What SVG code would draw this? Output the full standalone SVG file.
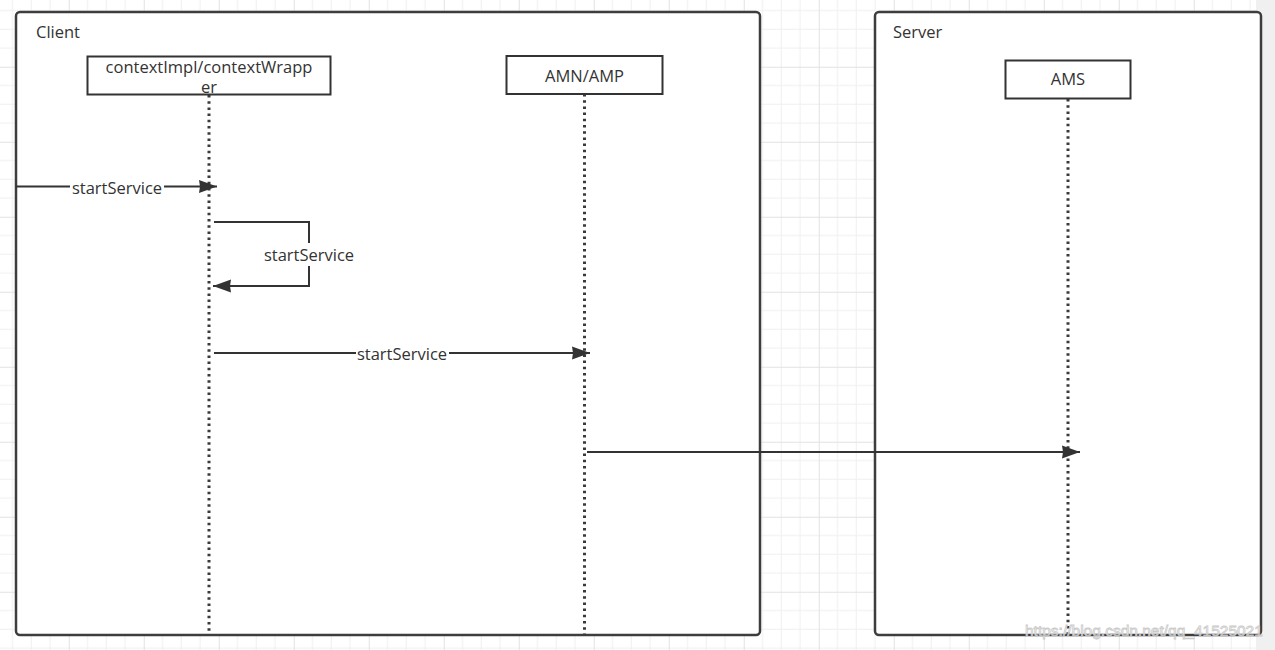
<svg xmlns="http://www.w3.org/2000/svg" width="1275" height="650" viewBox="0 0 1275 650">
  <defs>
    <pattern id="grid" patternUnits="userSpaceOnUse" x="68.75" y="66.75" width="75" height="75">
      <path d="M18.75,0V75M37.5,0V75M56.25,0V75M0,18.75H75M0,37.5H75M0,56.25H75" stroke="#efefef" stroke-width="1" fill="none"/>
      <path d="M0.5,0V75M0,0.5H75" stroke="#e2e2e2" stroke-width="1" fill="none"/>
    </pattern>
    <marker id="arr" markerUnits="userSpaceOnUse" markerWidth="20" markerHeight="14" refX="18" refY="6.5" orient="auto" overflow="visible">
      <path d="M0,0 L18,6.5 L0,13 L1,6.5 Z" fill="#333"/>
    </marker>
    <style>
      .t { font-family: "Open Sans", "Noto Sans", "Liberation Sans", sans-serif; font-size: 16.5px; fill: #333; }
      .container { fill: #fff; stroke: #3d3d3d; stroke-width: 2.5; }
      .head { fill: #fff; stroke: #333; stroke-width: 2; }
      .life { stroke: #3a3a3a; stroke-width: 3; stroke-dasharray: 2.5 3.7; fill: none; }
      .conn { stroke: #333; stroke-width: 2; fill: none; }
      .lbl { fill: #fff; }
    </style>
  </defs>

  <rect x="0" y="0" width="1275" height="650" fill="#fff"/>
  <rect x="0" y="0" width="1275" height="650" fill="url(#grid)"/>
  <rect x="1256" y="0" width="19" height="650" fill="#f0f0f0"/>

  <g id="client">
    <rect class="container" x="16" y="12" width="744" height="623" rx="4"/>
    <text class="t" x="36" y="38">Client</text>
  </g>
  <g id="server">
    <rect class="container" x="875" y="12" width="386" height="623" rx="4"/>
    <text class="t" x="893" y="38">Server</text>
  </g>

  <g id="contextImpl">
    <line class="life" x1="209" y1="95" x2="209" y2="635"/>
    <rect class="head" x="87.5" y="56.5" width="243" height="38"/>
    <text class="t" x="209" y="72.5" text-anchor="middle">contextImpl/contextWrapp</text>
    <text class="t" x="209" y="92.5" text-anchor="middle">er</text>
  </g>

  <g id="amn">
    <line class="life" x1="584.5" y1="94" x2="584.5" y2="635"/>
    <rect class="head" x="506.5" y="56" width="156" height="38"/>
    <text class="t" x="584.5" y="82" text-anchor="middle">AMN/AMP</text>
  </g>

  <g id="ams">
    <line class="life" x1="1068" y1="99" x2="1068" y2="635"/>
    <rect class="head" x="1005.5" y="60.5" width="125" height="38"/>
    <text class="t" x="1068" y="85" text-anchor="middle">AMS</text>
  </g>

  <g id="connectors">
    <path class="conn" d="M16,186.5 H217" marker-end="url(#arr)"/>
    <rect class="lbl" x="70" y="177" width="94" height="20"/>
    <text class="t" x="117" y="194" text-anchor="middle">startService</text>

    <path class="conn" d="M214,222 H309 V286 H213" marker-end="url(#arr)"/>
    <rect class="lbl" x="263" y="243" width="92" height="23"/>
    <text class="t" x="309" y="260.5" text-anchor="middle">startService</text>

    <path class="conn" d="M214,353 H590" marker-end="url(#arr)"/>
    <rect class="lbl" x="356" y="344" width="93" height="20"/>
    <text class="t" x="402" y="360" text-anchor="middle">startService</text>

    <path class="conn" d="M587,452 H1080" marker-end="url(#arr)"/>
  </g>

  <text x="1025" y="636" font-family="'Liberation Sans', sans-serif" font-size="15.5" fill="#fff" stroke="#c4c4c4" stroke-width="0.8" opacity="0.9">https://blog.csdn.net/qq_41525021</text>
</svg>
